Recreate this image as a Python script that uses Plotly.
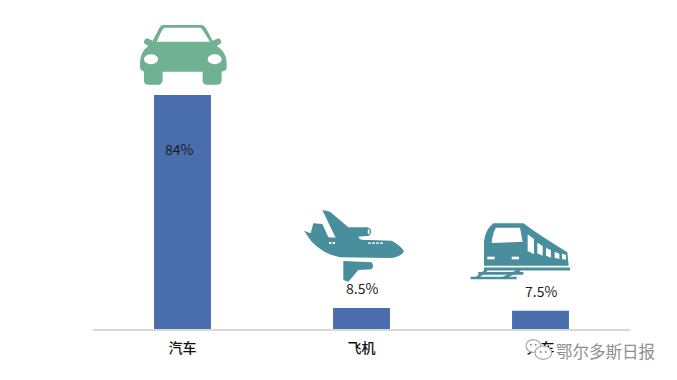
import base64
import plotly.graph_objects as go

categories = ["汽车", "飞机", "火车"]
shares = [84, 8.5, 7.5]
share_labels = ["84%", "8.5%", "7.5%"]
label_shift_x = [-3, 0, 0]
label_shift_y = [-54, 20, 20]
watermark = "鄂尔多斯日报"

W, H = 677, 380
ML, MR, MT, MB = 93, 47, 5, 51

BLUE = "#4A6DAE"
GREEN = "#6FB194"
TEAL = "#4A8E9C"
FONT = "'Noto Sans CJK SC', 'Noto Sans', sans-serif"
BLUR = '<defs><filter id="b" x="-5%" y="-5%" width="110%" height="110%"><feGaussianBlur stdDeviation="1.1"/></filter></defs>'


def svg_uri(w, h, body):
    svg = (f'<svg xmlns="http://www.w3.org/2000/svg" width="{w}" height="{h}" '
           f'viewBox="0 0 {w*3} {h*3}">{BLUR}<g filter="url(#b)">{body}</g></svg>')
    return "data:image/svg+xml;base64," + base64.b64encode(svg.encode()).decode()


car = f'''
<path fill="{GREEN}" d="M130 45 L245 45 Q255 47 262 62 L278 92 L295 85 Q305 88 303 100 L290 108 Q320 125 320 160 L320 175
Q318 183 305 185 L305 212 Q303 224 290 224 L262 224 Q248 224 248 212 L248 185 L128 185 L128 212 Q126 224 113 224 L85 224
Q72 224 72 212 L72 185 Q62 183 60 175 L60 160 Q60 125 85 108 L72 100 Q70 88 82 85 L98 92 L115 60 Q120 47 130 45 Z"/>
<path fill="#fff" d="M135 53 L240 53 Q245 53 250 63 L270 95 L110 95 L125 63 Q130 53 135 53 Z"/>
<ellipse fill="#fff" cx="93" cy="148" rx="21" ry="15"/>
<ellipse fill="#fff" cx="284" cy="148" rx="21" ry="15"/>
'''

plane = f'''
<g fill="{TEAL}">
<path d="M42 92 L62 100 L70 70 L97 72 L115 112 L240 120 L305 122 Q335 138 342 155 Q330 172 300 174 L150 172 Q100 162 65 125 Z"/>
<path d="M97 30 L120 35 L175 82 L232 82 Q245 85 243 98 Q240 108 230 108 L205 110 L215 125 L140 120 Z"/>
<path d="M160 183 L245 187 Q253 197 245 208 L205 210 L175 245 L160 240 Z"/>
</g>
<g fill="#fff">
<rect x="117" y="126" width="7" height="6"/><rect x="128" y="126" width="7" height="6"/>
<rect x="235" y="127" width="7" height="5"/><rect x="247" y="127" width="7" height="5"/>
<rect x="259" y="127" width="7" height="5"/><rect x="271" y="127" width="7" height="5"/>
<path d="M215 113 L305 118 L305 120 L215 119 Z"/>
<ellipse cx="236" cy="95" rx="3" ry="8"/>
</g>
'''

train = f'''
<path fill="{TEAL}" d="M100 25 L190 25 Q240 62 322 112 L326 152 L72 152 L72 80 Q75 45 100 25 Z"/>
<g fill="#fff">
<path d="M108 38 L180 38 L188 80 L95 84 Q97 55 108 38 Z"/>
<path d="M203 58 L222 72 L222 118 L203 108 Z"/>
<path d="M232 83 L248 93 L248 122 L232 115 Z"/>
<path d="M258 98 L273 106 L273 128 L258 122 Z"/>
<path d="M284 110 L298 116 L298 132 L284 128 Z"/>
<path d="M306 116 L318 120 L318 134 L306 132 Z"/>
<rect x="82" y="125" width="22" height="8"/>
<rect x="155" y="125" width="22" height="8"/>
</g>
<g stroke="{TEAL}" fill="none">
<path stroke-width="9" d="M72 162 L330 162"/>
<path stroke-width="8" d="M55 175 L190 175"/>
<path stroke-width="7" d="M32 189 L170 189"/>
<path stroke-width="8" d="M80 165 L50 189"/>
<path stroke-width="8" d="M180 165 L130 189"/>
</g>
'''

bubble = '''
<g fill="#fff" stroke="#a8a8a8" stroke-width="3.5">
<ellipse cx="25" cy="24" rx="22" ry="19"/>
<ellipse cx="55" cy="44" rx="25" ry="20"/>
</g>
<g fill="#888"><circle cx="18" cy="20" r="3"/><circle cx="32" cy="20" r="3"/>
<circle cx="47" cy="42" r="3"/><circle cx="62" cy="42" r="3"/></g>
'''

fig = go.Figure(go.Bar(
    x=categories, y=shares, width=0.318, marker=dict(color=BLUE, line_width=0),
    hoverinfo="skip",
))

annotations = [
    dict(x=c, y=v, xref="x", yref="y", text=t, showarrow=False, xshift=sx, yshift=sy,
         font=dict(family=FONT, size=14, color="#1c1c1c"))
    for c, v, t, sx, sy in zip(categories, shares, share_labels, label_shift_x, label_shift_y)
]
pw, ph = W - ML - MR, H - MT - MB
annotations.append(dict(
    x=(605.5 - ML) / pw, y=(H - MB - 351) / ph, xref="paper", yref="paper",
    xanchor="center", yanchor="middle",
    text=watermark, showarrow=False, font=dict(family=FONT, size=16.5, color="#8f8f8f"),
))


def place(src, x, y, w, h):
    return dict(source=src, xref="paper", yref="paper", x=(x - ML) / pw, y=(H - MB - y) / ph,
                sizex=w / pw, sizey=h / ph, sizing="stretch", xanchor="left", yanchor="top", layer="above")


images = [
    place(svg_uri(130, 100, car), 120, 10, 130, 100),
    place(svg_uri(130, 110, plane), 290, 200, 130, 110),
    place(svg_uri(130, 100, train), 460, 215, 130, 100),
    place(svg_uri(30, 24, bubble), 525, 338, 30, 24),
]

fig.update_layout(
    width=W, height=H, margin=dict(l=ML, r=MR, t=MT, b=MB),
    paper_bgcolor="white", plot_bgcolor="white", showlegend=False,
    annotations=annotations, images=images,
    xaxis=dict(type="category", range=[-0.5, 2.5], showline=True, linecolor="#D9D9D9", linewidth=1.5,
               ticks="", showgrid=False, zeroline=False, fixedrange=True,
               tickfont=dict(family=FONT, size=14, color="#111111", weight=500), ticklabelstandoff=5),
    yaxis=dict(range=[1.05, 115.9], visible=False, showgrid=False, zeroline=False, fixedrange=True),
)

fig.write_html("out.html", config={"displayModeBar": False},
               post_script="document.body.style.margin='0';document.documentElement.style.overflow='hidden';")
